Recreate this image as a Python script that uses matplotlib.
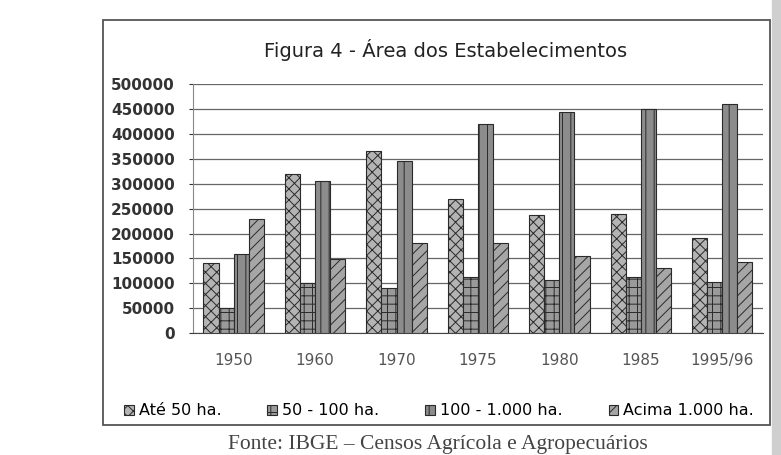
import numpy as np
import matplotlib
matplotlib.use("Agg")
from matplotlib import pyplot as plt
from matplotlib.patches import Rectangle

# data
anos = ["1950", "1960", "1970", "1975", "1980", "1985", "1995/96"]
ate_50 = [140000, 320000, 365000, 270000, 238000, 240000, 190000]
de_50_100 = [50000, 100000, 90000, 112000, 107000, 113000, 103000]
de_100_1000 = [158000, 305000, 345000, 420000, 445000, 450000, 460000]
acima_1000 = [230000, 148000, 180000, 180000, 155000, 130000, 143000]

series = [ate_50, de_50_100, de_100_1000, acima_1000]
nomes = ["Até 50 ha.", "50 - 100 ha.", "100 - 1.000 ha.", "Acima 1.000 ha."]
cores = ["#b4b4b4", "#9a9a9a", "#8c8c8c", "#a6a6a6"]
hachuras = ["xxx", "++", "||", "///"]

plt.rcParams['font.family'] = ['DejaVu Sans']
plt.rcParams['hatch.color'] = '#3a3a3a'
plt.rcParams['hatch.linewidth'] = 0.7

fig = plt.figure(figsize=(7.81, 4.55), dpi=100)
ax = fig.add_axes([0.247, 0.268, 0.730, 0.547])

x = np.arange(len(anos))
w = 0.185
barras = []
for i, (vals, nome) in enumerate(zip(series, nomes)):
    b = ax.bar(x + (i - 1.5) * w, vals, w, label=nome, color=cores[i],
               hatch=hachuras[i], edgecolor='#2a2a2a', linewidth=0.8, zorder=3)
    barras.append(b)

ax.set_xlim(-0.5, len(anos) - 0.5)
ax.set_ylim(0, 500000)
ax.set_yticks(np.arange(0, 500001, 50000))
ax.yaxis.grid(True, color='#666666', linewidth=0.9, zorder=0)
ax.set_xticks(x)
ax.set_xticklabels(anos, fontsize=11, color='#555555')
ax.tick_params(axis='x', length=0, pad=14)
ax.tick_params(axis='y', labelsize=11, length=3, pad=10, colors='#333333')
for lbl in ax.get_yticklabels():
    lbl.set_fontweight('bold')
for s in ['top', 'right']:
    ax.spines[s].set_visible(False)
ax.spines['left'].set_color('#888888')
ax.spines['bottom'].set_color('#444444')

fig.text(0.57, 0.89, "Figura 4 - Área dos Estabelecimentos", ha='center',
         va='center', fontsize=14, color='#222222')

fig.legend(handles=barras, labels=nomes, loc='center', ncol=4,
           bbox_to_anchor=(0.562, 0.097), frameon=False, fontsize=11.5,
           handlelength=0.6, handleheight=0.6, handletextpad=0.3,
           columnspacing=2.9)

# frame of the scanned figure
fig.patches.append(Rectangle((103 / 781, 1 - 425 / 455), 667 / 781, 405 / 455,
                             transform=fig.transFigure, fill=False,
                             edgecolor='#555555', linewidth=1.3))
fig.patches.append(Rectangle((772 / 781, 0), 9 / 781, 1, transform=fig.transFigure,
                             color='#cfcfcf', zorder=0))

fig.text(0.561, 0.024, "Fonte: IBGE – Censos Agrícola e Agropecuários",
         ha='center', va='center', fontsize=15.5, color='#444444',
         family='Liberation Serif')

fig.savefig("out.png", dpi=100)
